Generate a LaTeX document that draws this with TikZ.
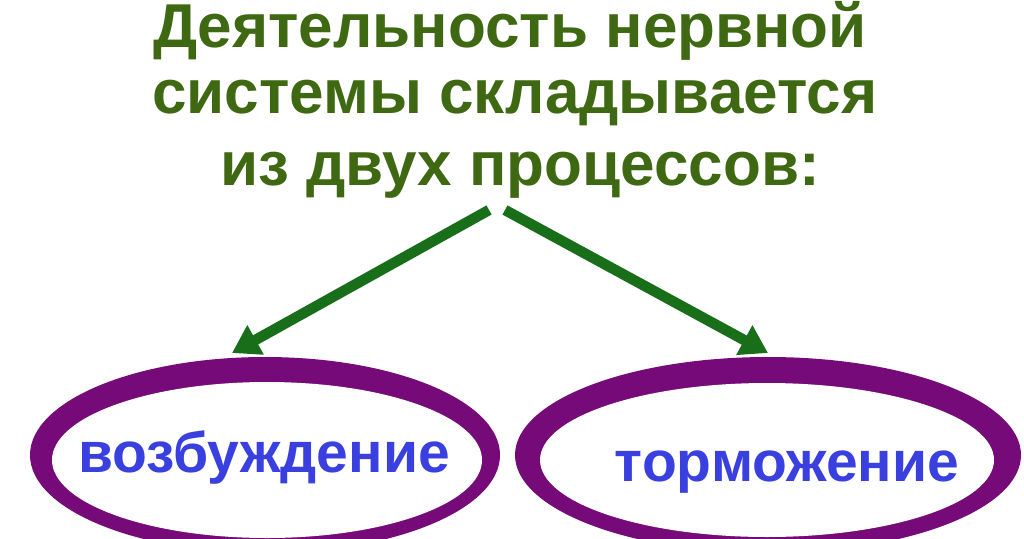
\documentclass[tikz,border=0pt]{standalone}
\usepackage{fontspec}
\setmainfont{Liberation Sans}
\usetikzlibrary{arrows.meta}
\definecolor{titlegreen}{RGB}{62,105,18}
\definecolor{arrowgreen}{RGB}{25,110,25}
\definecolor{ringpurple}{RGB}{118,10,120}
\definecolor{wordblue}{RGB}{58,64,224}
\tikzset{
  titletext/.style={anchor=base, inner sep=0pt, text height=45pt, text depth=12pt, text=titlegreen, font=\bfseries\fontsize{62}{66}\selectfont},
  wordtext/.style={anchor=base, inner sep=0pt, text=wordblue, font=\bfseries\fontsize{57}{60}\selectfont},
  greenarrow/.style={draw=arrowgreen, line width=10.5pt, -{Triangle[length=27pt,width=32pt]}},
  ring/.style={fill=ringpurple},
  hole/.style={fill=white}
}
\begin{document}
\begin{tikzpicture}[x=1pt,y=-1pt]
\useasboundingbox[fill=white] (0,0) rectangle (1024,538);
% rings
\fill[ring] (265,455) ellipse [x radius=235pt, y radius=98pt];
\fill[hole] (267,460) ellipse [x radius=215pt, y radius=78pt];
\fill[ring] (768,455) ellipse [x radius=253pt, y radius=98pt];
\fill[hole] (767,460) ellipse [x radius=227pt, y radius=77pt];
% title
\node[titletext] (t1) at (510,47) {Деятельность нервной};
\node[titletext] (t2) at (515,113) {системы складывается};
\node[titletext] (t3) at (520,185) {из двух процессов:};
% words
\node[wordtext] (w1) at (264,472) {возбуждение};
\node[wordtext] (w2) at (787,481) {торможение};
% arrows
\coordinate (s1) at (489,210);
\coordinate (e1) at (232,353);
\coordinate (s2) at (505,210);
\coordinate (e2) at (768,353);
\draw[greenarrow] (s1) -- (e1);
\draw[greenarrow] (s2) -- (e2);
\end{tikzpicture}
\end{document}
